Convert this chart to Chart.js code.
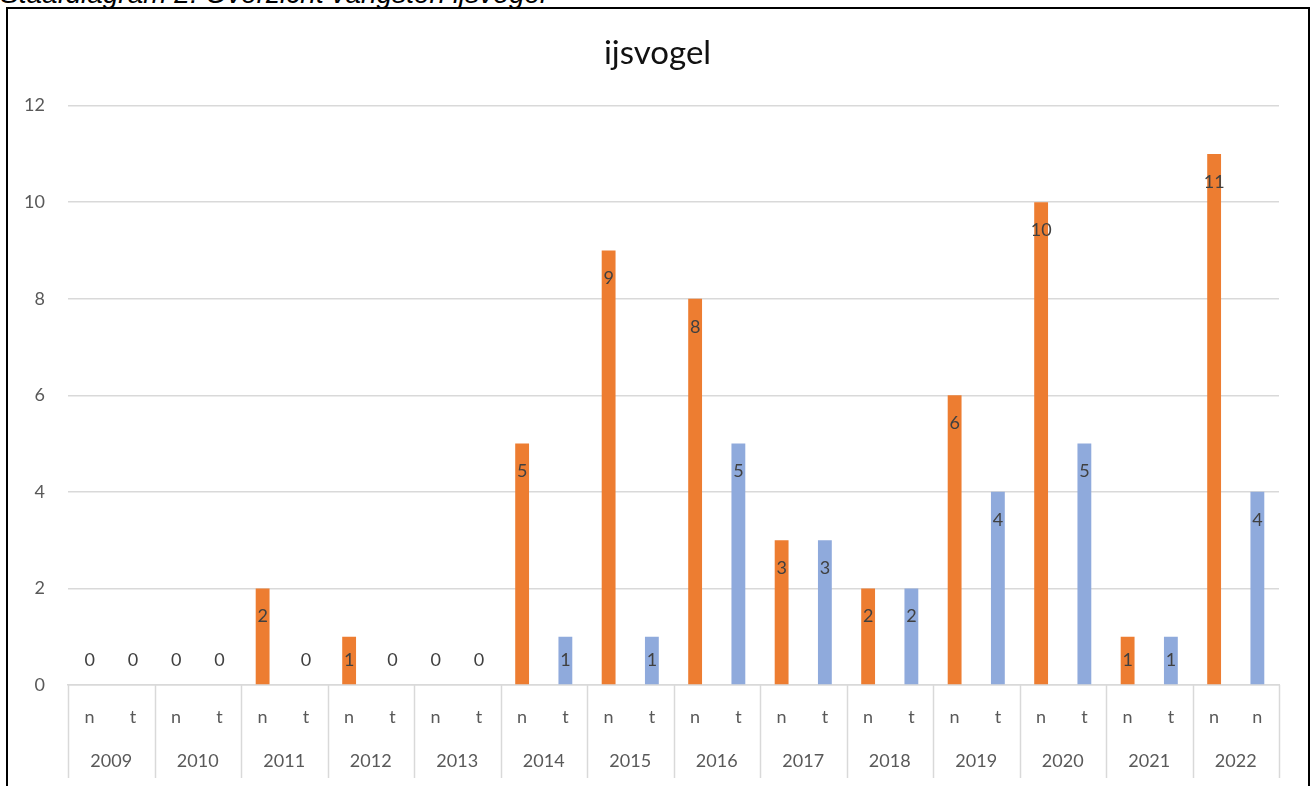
<!DOCTYPE html>
<html>
<head>
<meta charset="utf-8">
<title>ijsvogel</title>
<script src="https://cdn.jsdelivr.net/npm/chart.js@4/dist/chart.umd.min.js"></script>
<style>
    html, body { margin: 0; padding: 0; background: #fff; overflow: hidden; }
    #wrap { position: relative; width: 1311px; height: 786px; }
    #caption {
        position: absolute; left: 0; top: -20px;
        font: italic 28px/28px "Liberation Sans", Arial, sans-serif;
        color: #000; white-space: nowrap;
    }
    #frame {
        position: absolute; left: 6px; top: 7px; width: 1300px; height: 800px;
        border: 2px solid #000; pointer-events: none;
    }
    canvas { position: absolute; left: 0; top: 0; }
</style>
</head>
<body>
<div id="wrap">
    <div id="caption">Staafdiagram 2: Overzicht vangsten ijsvogel</div>
    <canvas id="chart" width="1311" height="786"></canvas>
    <div id="frame"></div>
</div>
<script>
// Data
const years = ['2009', '2010', '2011', '2012', '2013', '2014', '2015',
               '2016', '2017', '2018', '2019', '2020', '2021', '2022'];
const subLabels = ['n', 't', 'n', 't', 'n', 't', 'n', 't', 'n', 't', 'n', 't', 'n', 't',
                   'n', 't', 'n', 't', 'n', 't', 'n', 't', 'n', 't', 'n', 't', 'n', 'n'];
const counts = [0, 0, 0, 0, 2, 0, 1, 0, 0, 0, 5, 1, 9, 1,
                8, 5, 3, 3, 2, 2, 6, 4, 10, 5, 1, 1, 11, 4];
const yTicks = [0, 2, 4, 6, 8, 10, 12];

const ORANGE = '#ED7D31';
const BLUE = '#8FAADC';
const GRID = '#D9D9D9';
const TEXT = '#595959';
const FONT = 'Lato, "Open Sans", sans-serif';
const TICK_SIZE = 18;

// first bar of each year pair is orange, second one blue
const barColors = counts.map((v, i) => i % 2 === 0 ? ORANGE : BLUE);

// value labels, inside the top of the bar (Excel "inside end")
const valueLabels = {
    id: 'valueLabels',
    afterDatasetsDraw(chart) {
        const ctx = chart.ctx;
        const meta = chart.getDatasetMeta(0);
        const base = chart.scales.y.getPixelForValue(0);
        ctx.save();
        ctx.font = TICK_SIZE + 'px ' + FONT;
        ctx.fillStyle = '#404040';
        ctx.textAlign = 'center';
        ctx.textBaseline = 'middle';
        meta.data.forEach((bar, i) => {
            const y = Math.min(bar.y + 28, base - 25);
            ctx.fillText(String(counts[i]), bar.x, y);
        });
        ctx.restore();
    }
};

// separators between the year groups under the axis
const groupLines = {
    id: 'groupLines',
    afterLayout(chart) {
        // centre the title on the frame rather than on the padded area
        chart.titleBlock.left += 16;
    },
    afterDraw(chart) {
        const x = chart.scales.x;
        const ctx = chart.ctx;
        const top = chart.scales.y.getPixelForValue(0);
        const step = x.width / subLabels.length;
        ctx.save();
        ctx.strokeStyle = GRID;
        ctx.lineWidth = 1.5;
        for (let g = 0; g <= years.length; g++) {
            const px = Math.round(x.left + g * 2 * step) + 0.5;
            ctx.beginPath();
            ctx.moveTo(px, top);
            ctx.lineTo(px, 778);
            ctx.stroke();
        }
        ctx.restore();
    }
};

new Chart(document.getElementById('chart'), {
    type: 'bar',
    data: {
        labels: subLabels,
        datasets: [{
            label: 'ijsvogel',
            data: counts,
            backgroundColor: barColors,
            barPercentage: 0.32,
            categoryPercentage: 1.0
        }]
    },
    options: {
        responsive: false,
        animation: false,
        layout: { padding: { left: 20, right: 32, top: 0, bottom: 15 } },
        plugins: {
            legend: { display: false },
            tooltip: { enabled: false },
            title: {
                display: true,
                text: 'ijsvogel',
                color: '#111',
                font: { family: FONT, size: 33, weight: 'normal', lineHeight: 1.2 },
                padding: { top: 34, bottom: 32 }
            }
        },
        scales: {
            x: {
                offset: true,
                afterFit(axis) { axis.height = 42; },
                grid: { display: false, drawTicks: false },
                border: { display: true, color: GRID, width: 1.5 },
                ticks: { color: TEXT, font: { family: FONT, size: TICK_SIZE }, padding: 21, maxRotation: 0, autoSkip: false }
            },
            x2: {
                type: 'category',
                labels: years,
                position: 'bottom',
                offset: true,
                afterFit(axis) { axis.height = 44; },
                grid: { display: false, drawTicks: false },
                border: { display: false },
                ticks: { color: TEXT, font: { family: FONT, size: TICK_SIZE }, padding: 23, maxRotation: 0, autoSkip: false }
            },
            y: {
                min: 0,
                max: 12,
                afterFit(axis) { axis.width = 48; },
                afterBuildTicks(axis) { axis.ticks = yTicks.map(v => ({ value: v })); },
                grid: { color: GRID, lineWidth: 1.5, drawTicks: false },
                border: { display: false },
                ticks: { color: TEXT, font: { family: FONT, size: TICK_SIZE }, padding: 23 }
            }
        }
    },
    plugins: [valueLabels, groupLines]
});
</script>
</body>
</html>
